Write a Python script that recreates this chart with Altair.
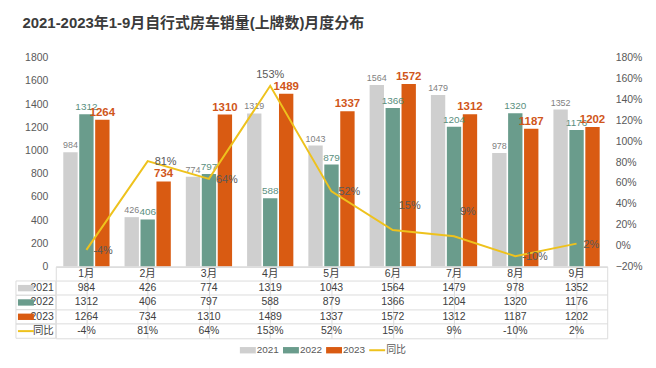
import altair as alt
import pandas as pd

# ---------------- data ----------------
months = ["1月", "2月", "3月", "4月", "5月", "6月", "7月", "8月", "9月"]
years = ["2021", "2022", "2023"]
sales_2021 = [984, 426, 774, 1319, 1043, 1564, 1479, 978, 1352]
sales_2022 = [1312, 406, 797, 588, 879, 1366, 1204, 1320, 1176]
sales_2023 = [1264, 734, 1310, 1489, 1337, 1572, 1312, 1187, 1202]
yoy_2023 = [-0.04, 0.81, 0.64, 1.53, 0.52, 0.15, 0.09, -0.10, 0.02]
yoy_name = "同比"
title_text = "2021-2023年1-9月自行式房车销量(上牌数)月度分布"
left_ticks = [0, 200, 400, 600, 800, 1000, 1200, 1400, 1600, 1800]
right_ticks = [-0.2, 0.0, 0.2, 0.4, 0.6, 0.8, 1.0, 1.2, 1.4, 1.6, 1.8]

# ---------------- styles ----------------
FONT = "Liberation Sans, Noto Sans CJK SC, sans-serif"
bar_colors = ["#cfcfcf", "#6a9c8c", "#d95b12"]
line_color = "#eec21d"
grid_color = "#dcdcdc"
text_color = "#404040"
W, H, TH = 554, 210, 72
RECT_PATH = "M-1,-0.4H1V0.4H-1Z"

series = {"2021": sales_2021, "2022": sales_2022, "2023": sales_2023}
bars_df = pd.DataFrame(
    [{"month": m, "year": y, "value": v} for y in years for m, v in zip(months, series[y])]
)
pct_labels = [f"{round(v * 100):d}%" for v in yoy_2023]
line_df = pd.DataFrame({"month": months, "yoy": yoy_2023, "label": pct_labels})

header_row = "月份"
rows = [header_row] + years + [yoy_name]
table_records = []
for i, m in enumerate(months):
    table_records.append({"month": m, "row": header_row, "text": m})
    for y in years:
        table_records.append({"month": m, "row": y, "text": str(series[y][i])})
    table_records.append({"month": m, "row": yoy_name, "text": pct_labels[i]})
table_df = pd.DataFrame(table_records)
rowlab_df = pd.DataFrame({"row": years + [yoy_name], "year": years + [yoy_name]})
legend_items = years + [yoy_name]
legend_df = pd.DataFrame({"item": legend_items, "year": legend_items,
                          "idx": list(range(len(legend_items)))})

color_scale = alt.Scale(domain=years, range=bar_colors)

# ---------------- main chart ----------------
X = alt.X("month:N", sort=months,
          scale=alt.Scale(paddingInner=0.245, paddingOuter=0.1225),
          axis=alt.Axis(title=None, labels=False, ticks=False, domainColor="#d9d9d9"))
XO = alt.XOffset("year:N", sort=years, scale=alt.Scale(domain=years, paddingInner=0.1))
YL = alt.Y("value:Q", scale=alt.Scale(domain=[0, 1800], nice=False),
           axis=alt.Axis(title=None, values=left_ticks, format="d", grid=False, domain=False,
                         ticks=False, labelColor="#595959", labelFontSize=10.5, labelPadding=8))
YR = alt.Y("yoy:Q", scale=alt.Scale(domain=[-0.2, 1.8], nice=False),
           axis=alt.Axis(title=None, orient="right", values=right_ticks, format=".0%", grid=False,
                         domain=False, ticks=False, labelColor="#595959", labelFontSize=10.5,
                         labelPadding=8))

bars = alt.Chart(bars_df).mark_bar().encode(
    x=X, xOffset=XO, y=YL,
    color=alt.Color("year:N", scale=color_scale, legend=None),
)

label_styles = [("2021", "#7f7f7f", 9, "normal"),
                ("2022", "#5a8f80", 10, "normal"),
                ("2023", "#d0561a", 11.5, "bold")]
bar_texts = [
    alt.Chart(bars_df).transform_filter(alt.datum.year == y)
    .mark_text(baseline="bottom", dy=-2, color=c, fontSize=s, fontWeight=w)
    .encode(x=X, xOffset=XO, y=YL, text="value:Q")
    for y, c, s, w in label_styles
]
left = alt.layer(bars, *bar_texts)

line = alt.Chart(line_df).mark_line(color=line_color, strokeWidth=2).encode(x=X, y=YR)
pct_default = alt.Chart(line_df).transform_filter(
    "datum.month != '4月' && datum.month != '6月' && datum.month != '7月'"
).mark_text(align="left", dx=7, dy=1, fontSize=11, color="#595959").encode(x=X, y=YR, text="label:N")
pct_top = alt.Chart(line_df).transform_filter(alt.datum.month == "4月").mark_text(
    align="center", dy=-11, fontSize=11, color="#595959").encode(x=X, y=YR, text="label:N")
pct_high = alt.Chart(line_df).transform_filter(
    "datum.month == '6月' || datum.month == '7月'"
).mark_text(align="left", dx=6, dy=-24, fontSize=11, color="#595959").encode(x=X, y=YR, text="label:N")
right = alt.layer(line, pct_default, pct_top, pct_high)

main = alt.layer(left, right).resolve_scale(y="independent").properties(
    width=W, height=H, view=alt.ViewBackground(stroke="transparent"))

# ---------------- table ----------------
XT = alt.X("month:N", sort=months, scale=alt.Scale(paddingInner=0, paddingOuter=0),
           axis=alt.Axis(title=None, labels=False, ticks=False, domain=False, grid=True,
                         bandPosition=0, gridColor=grid_color))
YT = alt.Y("row:N", sort=rows, scale=alt.Scale(domain=rows, paddingInner=0, paddingOuter=0),
           axis=alt.Axis(title=None, labels=False, ticks=False, domain=False, grid=True,
                         bandPosition=0, gridColor=grid_color))

table_text = alt.Chart(table_df).mark_text(fontSize=10.5, color=text_color).encode(
    x=XT, y=YT, text="text:N")
label_cells = alt.Chart(rowlab_df).mark_rect(fill="transparent", stroke=grid_color, strokeWidth=1).encode(
    x=alt.value(-40), x2=alt.value(0), y=YT)
row_labels = alt.Chart(rowlab_df).mark_text(align="right", fontSize=10.5, color=text_color).encode(
    x=alt.value(-2), y=YT, text="row:N")
row_swatch = alt.Chart(rowlab_df).transform_filter(alt.datum.row != yoy_name).mark_point(
    shape=RECT_PATH, filled=True, size=256, opacity=1).encode(
    x=alt.value(-30), y=YT, color=alt.Color("year:N", scale=color_scale, legend=None))
row_swatch_line = alt.Chart(rowlab_df).transform_filter(alt.datum.row == yoy_name).mark_point(
    shape="M-1,0H1", filled=False, size=256, opacity=1, strokeWidth=2, color=line_color).encode(
    x=alt.value(-30), y=YT)

table = alt.layer(label_cells, table_text, row_labels, row_swatch, row_swatch_line).properties(
    width=W, height=TH, view=alt.ViewBackground(stroke=grid_color))

# ---------------- legend ----------------
XL = alt.X("idx:Q", scale=alt.Scale(domain=[-4.27, 8.52], nice=False, zero=False), axis=None)
leg_sw = alt.Chart(legend_df).transform_filter(alt.datum.item != yoy_name).mark_point(
    shape=RECT_PATH, filled=True, size=256, opacity=1, xOffset=8).encode(
    x=XL, color=alt.Color("year:N", scale=color_scale, legend=None))
leg_line = alt.Chart(legend_df).transform_filter(alt.datum.item == yoy_name).mark_point(
    shape="M-1,0H1", filled=False, size=256, opacity=1, strokeWidth=2, color=line_color,
    xOffset=8).encode(x=XL)
leg_text = alt.Chart(legend_df).mark_text(align="left", dx=17, fontSize=10, color="#595959").encode(
    x=XL, text="item:N")
legend = alt.layer(leg_sw, leg_line, leg_text).properties(
    width=W, height=24, view=alt.ViewBackground(stroke="transparent"))

chart = alt.vconcat(main, table, legend, spacing=0, bounds="flush").properties(
    title=alt.TitleParams(text=title_text, anchor="start", frame="bounds", fontSize=15,
                          fontWeight="bold", color="#3b3b3b", dx=9, offset=21),
    padding={"left": 5, "right": 5, "top": 7, "bottom": 0},
).configure(font=FONT)

chart.save("out.html", embed_options={"renderer": "svg", "actions": False})
